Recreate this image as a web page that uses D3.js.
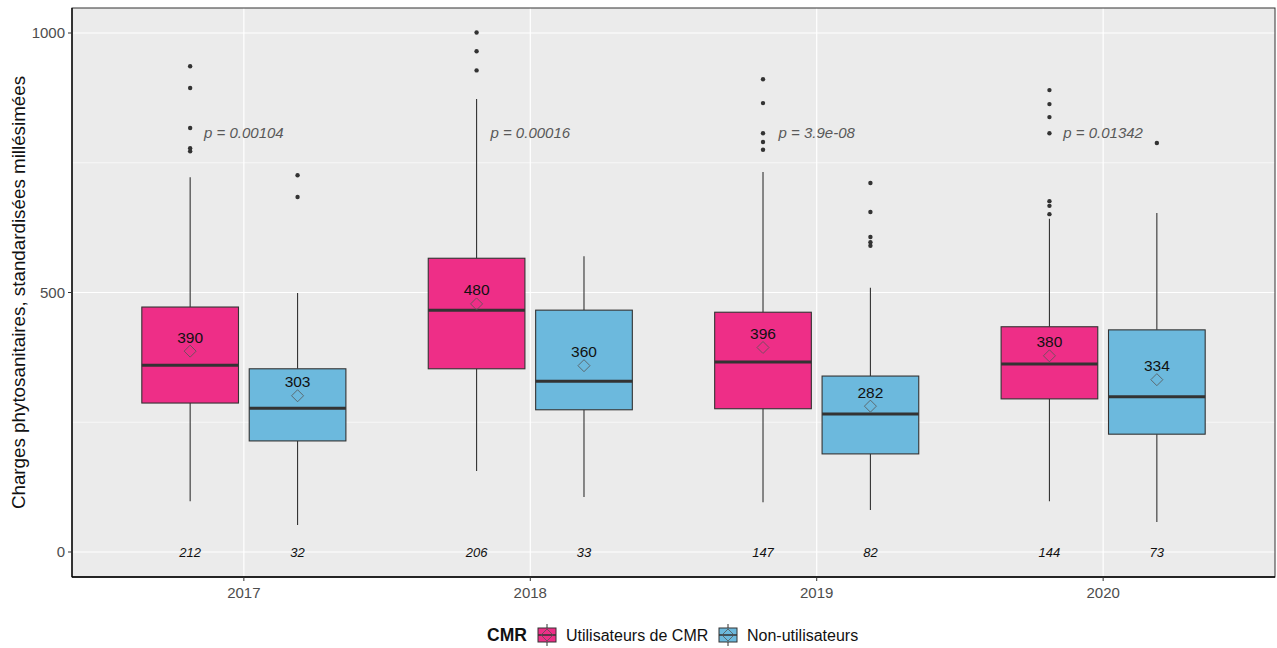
<!DOCTYPE html>
<html><head><meta charset="utf-8">
<script src="https://cdn.jsdelivr.net/npm/d3@7"></script>
<style>body{margin:0;background:#fff;}svg{display:block;font-family:"Liberation Sans",Arial,sans-serif;}</style>
</head><body><svg id="c" width="1277" height="648"></svg>
<script>
const years = ["2017","2018","2019","2020"];
const groups = ["Utilisateurs de CMR","Non-utilisateurs"];
const colors = ["#EE2E87","#6CB9DD"];
const pValues = ["p = 0.00104","p = 0.00016","p = 3.9e-08","p = 0.01342"];
const yTicks = [0,500,1000];

// Utilisateurs de CMR
const usersLow = [98,156,96,98];
const usersQ1 = [287,353,276,295];
const usersMed = [360,466,366,362];
const usersQ3 = [472,566,462,434];
const usersHigh = [722,873,732,642];
const usersMean = [387,478,394,378];
const usersMeanLabel = [390,480,396,380];
const usersN = [212,206,147,144];
const usersOut = [[936,894,817,778,772],[1001,965,928],[911,865,807,790,775],[890,863,838,807,676,667,651]];

// Non-utilisateurs
const nonLow = [52,106,81,58];
const nonQ1 = [214,274,189,227];
const nonMed = [277,329,266,299];
const nonQ3 = [353,466,339,428];
const nonHigh = [499,570,509,653];
const nonMean = [301,359,281,332];
const nonMeanLabel = [303,360,282,334];
const nonN = [32,33,82,73];
const nonOut = [[726,684],[],[711,655,607,597,590],[788]];

const series = [
  {low:usersLow,q1:usersQ1,med:usersMed,q3:usersQ3,high:usersHigh,mean:usersMean,ml:usersMeanLabel,n:usersN,out:usersOut},
  {low:nonLow,q1:nonQ1,med:nonMed,q3:nonQ3,high:nonHigh,mean:nonMean,ml:nonMeanLabel,n:nonN,out:nonOut}
];

const svg = d3.select("#c");
const L=72,R=1275,T=8,B=577;
const x = d3.scaleLinear().domain([0.4,4.6]).range([L,R]);
const y = d3.scaleLinear().domain([-48.2,1048.2]).range([B,T]);
const dodge = 0.1875, bw = 0.3375;

svg.append("rect").attr("x",L).attr("y",T).attr("width",R-L).attr("height",B-T).attr("fill","#EBEBEB");
[250,750].forEach(v=>svg.append("line").attr("x1",L).attr("x2",R).attr("y1",y(v)).attr("y2",y(v)).attr("stroke","#fff").attr("stroke-width",0.6));
yTicks.forEach(v=>svg.append("line").attr("x1",L).attr("x2",R).attr("y1",y(v)).attr("y2",y(v)).attr("stroke","#fff").attr("stroke-width",1.2));
years.forEach((yr,i)=>svg.append("line").attr("x1",x(i+1)).attr("x2",x(i+1)).attr("y1",T).attr("y2",B).attr("stroke","#fff").attr("stroke-width",1.2));

const g = svg.append("g");
series.forEach((s,si)=>{
  years.forEach((yr,i)=>{
    const cx = x(i+1) + (si===0?-1:1)*(x(1+dodge) - x(1));
    const half = (x(1+bw)-x(1))/2;
    g.append("line").attr("x1",cx).attr("x2",cx).attr("y1",y(s.high[i])).attr("y2",y(s.q3[i])).attr("stroke","#333").attr("stroke-width",1.1);
    g.append("line").attr("x1",cx).attr("x2",cx).attr("y1",y(s.q1[i])).attr("y2",y(s.low[i])).attr("stroke","#333").attr("stroke-width",1.1);
    g.append("rect").attr("x",cx-half).attr("y",y(s.q3[i])).attr("width",2*half).attr("height",y(s.q1[i])-y(s.q3[i]))
      .attr("fill",colors[si]).attr("stroke","#333").attr("stroke-width",1.1);
    g.append("line").attr("x1",cx-half).attr("x2",cx+half).attr("y1",y(s.med[i])).attr("y2",y(s.med[i])).attr("stroke","#333").attr("stroke-width",3);
    s.out[i].forEach(v=>g.append("circle").attr("cx",cx).attr("cy",y(v)).attr("r",2.2).attr("fill","#333"));
    const my = y(s.mean[i]);
    g.append("path").attr("d",`M${cx},${my-6}L${cx+6},${my}L${cx},${my+6}L${cx-6},${my}Z`).attr("fill","none").attr("stroke","#555").attr("stroke-width",0.8);
    g.append("text").attr("x",cx).attr("y",my-14).attr("dy","0.35em").attr("text-anchor","middle").attr("font-size",15.5).attr("fill","#111").text(s.ml[i]);
    g.append("text").attr("x",cx).attr("y",y(0)).attr("dy","0.35em").attr("text-anchor","middle").attr("font-size",13).attr("font-style","italic").attr("fill","#111").text(s.n[i]);
  });
});
pValues.forEach((p,i)=>svg.append("text").attr("x",x(i+1)).attr("y",y(807)).attr("dy","0.35em").attr("text-anchor","middle")
  .attr("font-size",15).attr("font-style","italic").attr("fill","#595959").text(p));

svg.append("rect").attr("x",L).attr("y",T).attr("width",R-L).attr("height",B-T).attr("fill","none").attr("stroke","#333").attr("stroke-width",1);
svg.append("line").attr("x1",L).attr("x2",R).attr("y1",B).attr("y2",B).attr("stroke","#000").attr("stroke-width",1.3);
svg.append("line").attr("x1",L).attr("x2",L).attr("y1",T).attr("y2",B).attr("stroke","#000").attr("stroke-width",1.3);

yTicks.forEach(v=>{
  svg.append("line").attr("x1",L-4).attr("x2",L).attr("y1",y(v)).attr("y2",y(v)).attr("stroke","#333");
  svg.append("text").attr("x",L-7).attr("y",y(v)).attr("dy","0.35em").attr("text-anchor","end").attr("font-size",15).attr("fill","#4D4D4D").text(v);
});
years.forEach((yr,i)=>{
  svg.append("line").attr("x1",x(i+1)).attr("x2",x(i+1)).attr("y1",B).attr("y2",B+4).attr("stroke","#333");
  svg.append("text").attr("x",x(i+1)).attr("y",B+16).attr("dy","0.35em").attr("text-anchor","middle").attr("font-size",15).attr("fill","#4D4D4D").text(yr);
});
svg.append("text").attr("transform",`translate(18,${(T+B)/2}) rotate(-90)`).attr("dy","0.35em").attr("text-anchor","middle")
  .attr("font-size",18.8).attr("fill","#111").text("Charges phytosanitaires, standardisées millésimées");

const ly = 635;
svg.append("text").attr("x",487).attr("y",ly).attr("dy","0.35em").attr("font-size",17.5).attr("font-weight","bold").attr("fill","#111").text("CMR");
const keyX = [538,719], txtX=[566,747];
groups.forEach((gname,i)=>{
  const kx = keyX[i], kc = kx+9;
  svg.append("line").attr("x1",kc).attr("x2",kc).attr("y1",ly-11).attr("y2",ly+11).attr("stroke","#333").attr("stroke-width",1);
  svg.append("rect").attr("x",kx).attr("y",ly-7).attr("width",18).attr("height",14).attr("fill",colors[i]).attr("stroke","#333").attr("stroke-width",1);
  svg.append("line").attr("x1",kx).attr("x2",kx+18).attr("y1",ly).attr("y2",ly).attr("stroke","#333").attr("stroke-width",1.5);
  svg.append("path").attr("d",`M${kc},${ly-6}L${kc+6},${ly}L${kc},${ly+6}L${kc-6},${ly}Z`).attr("fill","none").attr("stroke","#555").attr("stroke-width",0.8);
  svg.append("text").attr("x",txtX[i]).attr("y",ly).attr("dy","0.35em").attr("font-size",16).attr("fill","#111").text(gname);
});
</script></body></html>
